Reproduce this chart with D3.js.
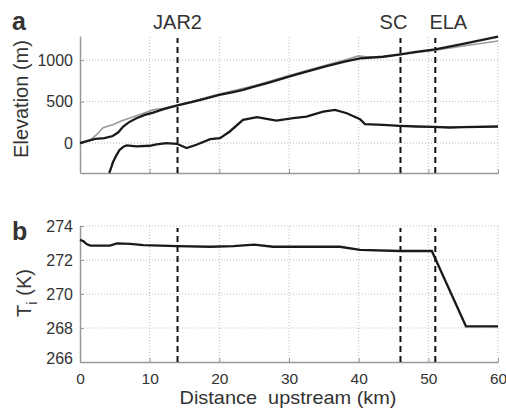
<!DOCTYPE html>
<html><head><meta charset="utf-8">
<script src="https://cdn.jsdelivr.net/npm/d3@7"></script>
<style>
body{margin:0;background:#fff;}
svg text{font-family:"Liberation Sans",Arial,sans-serif;fill:#333;}
</style></head><body>
<svg id="c" width="506" height="408"></svg>
<script>
// ---- data ----
const surfKm   = [0,1,2.2,3.5,4.7,5.5,6.2,7,8.1,9.3,10.5,12,14,16,18,20,22,23.4,25,27,30,32,35.4,38,40.2,43.5,46,48,51,55,60];
const surfElev = [0,25,50,60,85,130,200,250,300,340,367,410,455,495,535,580,615,640,680,725,800,850,927,980,1020,1040,1070,1095,1128,1195,1282];
const grayKm   = [0,1.5,2.5,3.3,4.7,6,8.1,10.5,12,14,16,20,25,30,35,38,40,41,43.5,46,51,55,60];
const grayElev = [0,40,110,185,220,270,330,400,420,460,500,590,690,815,930,1000,1050,1040,1040,1068,1120,1170,1230];
const bedKm    = [4.2,4.5,4.7,5.2,5.7,6.3,6.7,8.1,10,11,12.4,13.9,15.3,16.7,18.7,20.1,21.5,23.4,25.4,27,28.2,30.6,32.5,34.9,36.6,38.3,40.2,40.9,43.5,45.9,48.3,50.7,53.1,55,60];
const bedElev  = [-360,-290,-237,-150,-80,-40,-28,-40,-32,-15,0,-8,-60,-20,48,60,140,280,312,290,272,300,320,380,400,360,288,228,220,208,200,196,188,192,200];
const tempKm   = [0,0.5,1,1.5,4.3,5.3,7.2,9.1,13.9,18.7,22,25,27.7,37.3,40.2,45.9,50.5,55.4,60];
const tempK    = [273.18,273.1,272.92,272.85,272.85,272.98,272.95,272.88,272.82,272.78,272.82,272.9,272.78,272.78,272.59,272.53,272.53,268.1,268.1];
const markers  = [{name:"JAR2",km:14},{name:"SC",km:46},{name:"ELA",km:51}];
const xTicks   = [0,10,20,30,40,50,60];
const elevTicks= [0,500,1000];
const tempTicks= [266,268,270,272,274];

const svg = d3.select("#c");
const L = 80, R = 498;
const x = d3.scaleLinear().domain([0,60]).range([L,R]);
const yA = d3.scaleLinear().domain([-360,1290]).range([173,36]);
const yB = d3.scaleLinear().domain([266,274]).range([362,226]);
const axisCol = "#999", gridCol = "#bbb";

function panel(y, yTicks, showXLabels){
  const [y0,y1] = y.range();
  const g = svg.append("g");
  g.selectAll(".gx").data(xTicks.filter(d=>d>0)).join("line")
    .attr("x1",d=>x(d)).attr("x2",d=>x(d)).attr("y1",y0).attr("y2",y1)
    .attr("stroke",gridCol).attr("stroke-dasharray","1,2").attr("stroke-width",1);
  g.selectAll(".gy").data(yTicks.filter(d=>y(d)<y0-1)).join("line")
    .attr("x1",L).attr("x2",R).attr("y1",d=>y(d)).attr("y2",d=>y(d))
    .attr("stroke",gridCol).attr("stroke-dasharray","1,2").attr("stroke-width",1);
  const ax = d3.axisBottom(x).tickValues(xTicks).tickSizeInner(-4).tickSizeOuter(0).tickPadding(11)
    .tickFormat(showXLabels ? d3.format("d") : "");
  const gx = g.append("g").attr("transform",`translate(0,${y0})`).call(ax);
  const ay = d3.axisLeft(y).tickValues(yTicks).tickSizeInner(-4).tickSizeOuter(0).tickPadding(7).tickFormat(d3.format("d"));
  const gy = g.append("g").attr("transform",`translate(${L},0)`).call(ay);
  [gx,gy].forEach(a=>{
    a.select(".domain").attr("stroke",axisCol).attr("stroke-width",1.5);
    a.selectAll(".tick line").attr("stroke",axisCol);
    a.selectAll(".tick text").attr("font-size",16).attr("fill","#333")
      .attr("font-family","Liberation Sans, Arial, sans-serif");
  });
  gx.selectAll(".tick text").attr("font-size",15.5).attr("dy","0.71em");
  return gy;
}

panel(yA, elevTicks, false);
const gyB = panel(yB, tempTicks, true);
gyB.selectAll(".tick").filter(d=>d===266).select("text").attr("dy","0.1em");

function dashes(y){
  const [y0,y1] = y.range();
  svg.append("g").selectAll("line").data(markers).join("line")
    .attr("x1",d=>x(d.km)).attr("x2",d=>x(d.km)).attr("y1",y0).attr("y2",y1+2)
    .attr("stroke","#111").attr("stroke-width",2).attr("stroke-dasharray","6,4");
}
dashes(yA); dashes(yB);

const lineGen = (y)=>d3.line().x(d=>x(d[0])).y(d=>y(d[1]));
svg.append("path").datum(d3.zip(grayKm,grayElev)).attr("d",lineGen(yA))
  .attr("fill","none").attr("stroke","#999").attr("stroke-width",1.6);
svg.append("path").datum(d3.zip(surfKm,surfElev)).attr("d",lineGen(yA))
  .attr("fill","none").attr("stroke","#1a1a1a").attr("stroke-width",2.3);
svg.append("path").datum(d3.zip(bedKm,bedElev)).attr("d",lineGen(yA))
  .attr("fill","none").attr("stroke","#1a1a1a").attr("stroke-width",2.3);
svg.append("path").datum(d3.zip(tempKm,tempK)).attr("d",lineGen(yB))
  .attr("fill","none").attr("stroke","#1a1a1a").attr("stroke-width",2.3);

svg.append("g").selectAll("text").data(markers).join("text")
  .attr("x",d=>d.name==="SC"? x(d.km)-7 : d.name==="ELA"? x(d.km)+13 : x(d.km))
  .attr("y",29).attr("text-anchor","middle").attr("font-size",20).text(d=>d.name);

svg.append("text").attr("x",12).attr("y",30).attr("font-size",25).attr("font-weight","bold").attr("fill","#222").text("a");
svg.append("text").attr("x",12).attr("y",240).attr("font-size",25).attr("font-weight","bold").attr("fill","#222").text("b");

svg.append("text").attr("transform","translate(28,99) rotate(-90)").attr("text-anchor","middle")
  .attr("font-size",20).text("Elevation (m)");
const tl = svg.append("text").attr("transform","translate(31,293) rotate(-90)").attr("text-anchor","middle").attr("font-size",20);
tl.append("tspan").text("T");
tl.append("tspan").attr("font-size",15).attr("dy",6).text("i");
tl.append("tspan").attr("dy",-6).text(" (K)");
svg.append("text").attr("x",288).attr("y",404).attr("text-anchor","middle").attr("font-size",18.5)
  .attr("textLength",217).attr("lengthAdjust","spacingAndGlyphs")
  .attr("xml:space","preserve").style("white-space","pre").text("Distance  upstream (km)");
</script>
</body></html>
